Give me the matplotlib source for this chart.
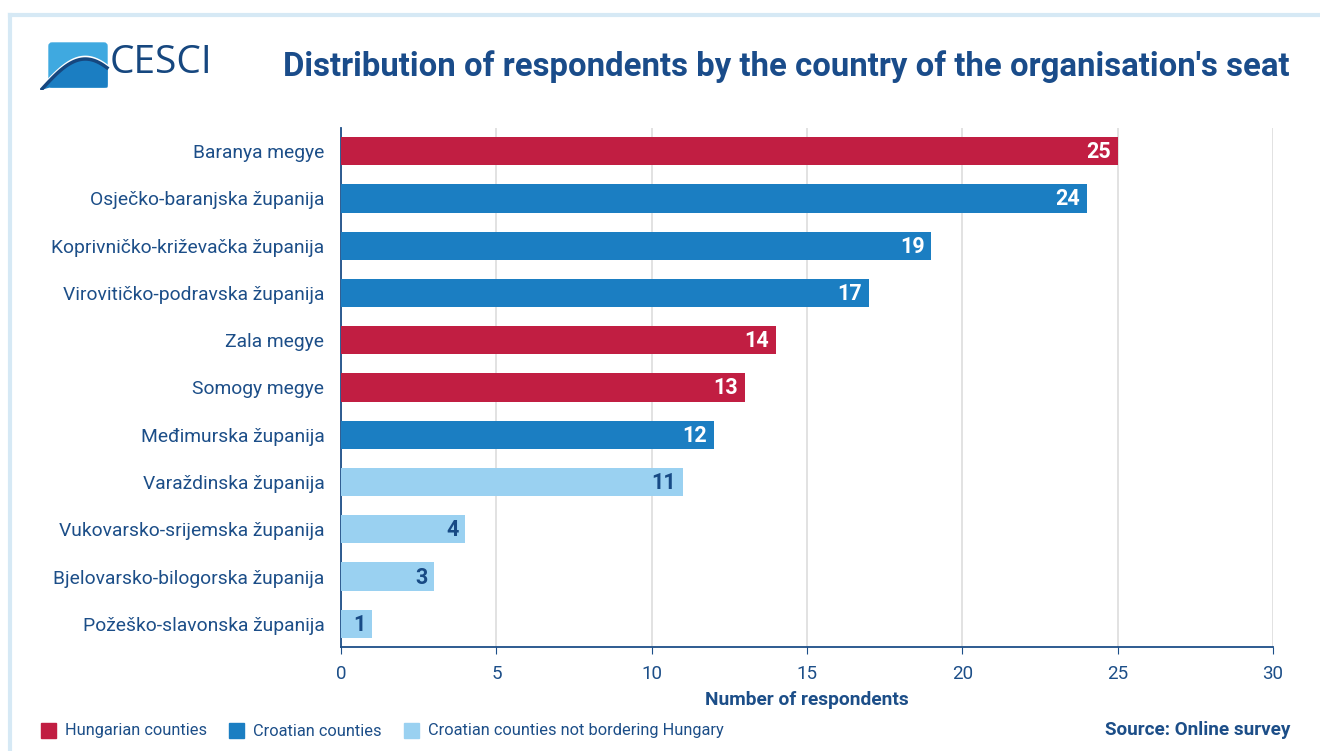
import numpy as np
import matplotlib.pyplot as plt
from matplotlib.patches import FancyBboxPatch, Rectangle, Polygon

plt.rcParams['font.family'] = ['Roboto', 'DejaVu Sans']

counties = ['Baranya megye', 'Osječko-baranjska županija', 'Koprivničko-križevačka županija',
            'Virovitičko-podravska županija', 'Zala megye', 'Somogy megye',
            'Međimurska županija', 'Varaždinska županija', 'Vukovarsko-srijemska županija',
            'Bjelovarsko-bilogorska županija', 'Požeško-slavonska županija']
respondents = [25, 24, 19, 17, 14, 13, 12, 11, 4, 3, 1]
group = ['hu', 'hr', 'hr', 'hr', 'hu', 'hu', 'hr', 'hr2', 'hr2', 'hr2', 'hr2']

group_names = {'hu': 'Hungarian counties', 'hr': 'Croatian counties',
               'hr2': 'Croatian counties not bordering Hungary'}
colors = {'hu': '#C11E42', 'hr': '#1B7EC2', 'hr2': '#9AD1F1'}
navy = '#1C4E88'

fig = plt.figure(figsize=(13.2, 7.51), dpi=100)

# frame round the chart
fig.add_artist(plt.Line2D([10/1320, 10/1320], [0, 1 - 15/751], color='#D6E9F5', lw=3))
fig.add_artist(plt.Line2D([10/1320, 1], [1 - 15/751, 1 - 15/751], color='#D6E9F5', lw=3))

ax = fig.add_axes([341/1320, 1 - 647/751, (1273-341)/1320, (647-128)/751])
y = np.arange(len(counties))
bar_colors = [colors[g] for g in group]
ax.barh(y, respondents, height=0.6, color=bar_colors, zorder=3)

for yi, v, g in zip(y, respondents, group):
    tc = '#174A85' if g == 'hr2' else 'white'
    ax.text(v - 0.22, yi + 0.02, str(v), ha='right', va='center', color=tc,
            fontsize=15.5, fontweight='bold', zorder=4)

ax.set_ylim(len(counties) - 0.51, -0.49)
ax.set_xlim(0, 30)
ax.set_xticks(range(0, 31, 5))
ax.set_yticks(y)
ax.set_yticklabels(counties)
ax.tick_params(axis='y', length=0, pad=12, labelsize=13.9, labelcolor=navy)
ax.tick_params(axis='x', length=5, color=navy, labelsize=13.5, labelcolor=navy, pad=8)
ax.grid(axis='x', color='#DDDDDD', lw=1.2, zorder=0)
for s in ['top', 'right']:
    ax.spines[s].set_visible(False)
for s in ['left', 'bottom']:
    ax.spines[s].set_color(navy)
    ax.spines[s].set_linewidth(1.3)
ax.set_xlabel('Number of respondents', fontsize=13.8, fontweight='bold', color=navy, labelpad=6)

fig.text(1290/1320, 1 - 67/751, "Distribution of respondents by the country of the organisation's seat",
         ha='right', va='center', fontsize=23.7, fontweight='bold', color='#1A4C8A')

# logo
lax = fig.add_axes([40/1320, 1 - 90/751, 70/1320, 50/751])
lax.set_xlim(0, 70)
lax.set_ylim(0, 50)
lax.axis('off')
lax.add_patch(FancyBboxPatch((9, 3), 58, 44, boxstyle='round,pad=0,rounding_size=3',
                             color='#3FA9E0'))
t = np.linspace(0, 1, 40)
arc_x = 2 + 65 * t
arc_y = 1 + 30 * np.sin(np.pi * t * 0.75)
lax.add_patch(Polygon(np.column_stack([np.r_[arc_x, 67, 9], np.r_[arc_y, 3, 3]]),
                      color='#1B7EC2'))
lax.plot(arc_x, arc_y + 2, color='white', lw=2)
lax.plot(arc_x, arc_y, color='#16477F', lw=2.5)
fig.text(110/1320, 1 - 63/751, 'CESCI', ha='left', va='center', fontsize=28,
         color='#16477F', family=['Open Sans', 'DejaVu Sans'])

# legend
lx = 41
for g in ['hu', 'hr', 'hr2']:
    fig.add_artist(Rectangle((lx/1320, 1 - 738/751), 15/1320, 15/751, color=colors[g]))
    txt = fig.text((lx + 24)/1320, 1 - 731/751, group_names[g], ha='left', va='center',
                   fontsize=11.8, color=navy)
    fig.canvas.draw()
    bb = txt.get_window_extent()
    lx = bb.x1 + 22

fig.text(1290/1320, 1 - 730/751, 'Source: Online survey', ha='right', va='center',
         fontsize=13.6, fontweight='bold', color=navy)

fig.savefig('out.png', dpi=100, facecolor='white')
